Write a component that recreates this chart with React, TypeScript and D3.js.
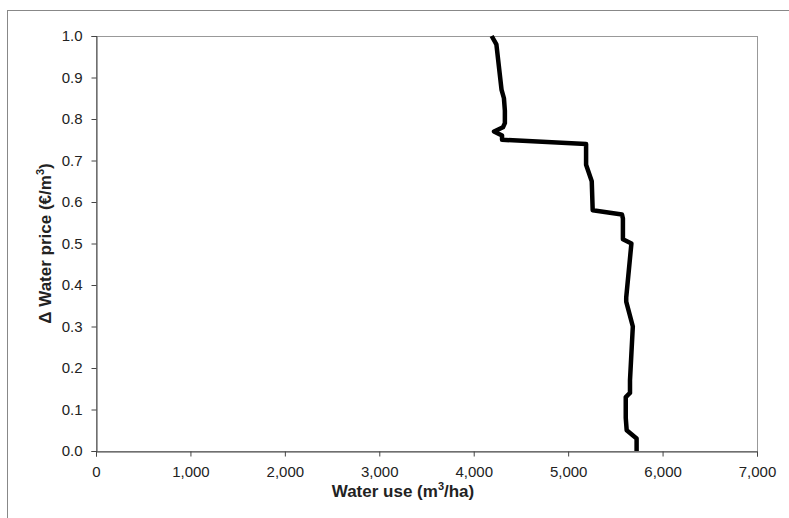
import React, { useEffect, useRef } from "react";
import * as d3 from "d3";

// Δ water price (€/m³) and the matching water use (m³/ha), read top to bottom
const priceLevels = [1.0, 0.98, 0.87, 0.85, 0.82, 0.79, 0.78, 0.77, 0.76, 0.75, 0.74, 0.69, 0.65, 0.58, 0.57, 0.56, 0.51, 0.5, 0.37, 0.36, 0.3, 0.17, 0.14, 0.13, 0.08, 0.05, 0.03, 0.0];
const waterUse = [4190, 4240, 4295, 4320, 4330, 4330, 4310, 4215, 4300, 4300, 5190, 5190, 5250, 5260, 5570, 5580, 5580, 5670, 5615, 5615, 5685, 5655, 5655, 5610, 5610, 5620, 5725, 5725];

const xTicks = [0, 1000, 2000, 3000, 4000, 5000, 6000, 7000];
const yTicks = [0, 0.1, 0.2, 0.3, 0.4, 0.5, 0.6, 0.7, 0.8, 0.9, 1.0];

const W = 789;
const H = 518;

const App = () => {
  const ref = useRef<SVGSVGElement>(null);

  useEffect(() => {
    const svg = d3.select(ref.current);
    svg.selectAll("*").remove();

    const left = 96;
    const right = 757;
    const top = 36;
    const bottom = 451;
    const font = "'Liberation Sans', Arial, sans-serif";
    const textColor = "#222";

    // outer chart frame
    svg.append("rect").attr("x", 7.5).attr("y", 10.5).attr("width", 900).attr("height", 700)
      .attr("fill", "#fff").attr("stroke", "#888").attr("stroke-width", 1);

    const x = d3.scaleLinear().domain([0, 7000]).range([left, right]);
    const y = d3.scaleLinear().domain([0, 1]).range([bottom, top]);

    // plot area border (top/right grey)
    svg.append("rect").attr("x", left + 0.5).attr("y", top + 0.5)
      .attr("width", right - left).attr("height", bottom - top)
      .attr("fill", "none").attr("stroke", "#999");

    const xAxis = svg.append("g").attr("transform", `translate(0,${bottom + 0.5})`)
      .call(d3.axisBottom(x).tickValues(xTicks).tickSize(5).tickPadding(10).tickFormat(d3.format(",")));
    const yAxis = svg.append("g").attr("transform", `translate(${left + 0.5},0)`)
      .call(d3.axisLeft(y).tickValues(yTicks).tickSize(5).tickPadding(9).tickFormat(d3.format(".1f")));

    [xAxis, yAxis].forEach((g) => {
      g.select(".domain").attr("stroke", "#444");
      g.selectAll(".tick line").attr("stroke", "#444");
      g.selectAll("text").style("font-family", font).style("font-size", "15px").attr("fill", textColor);
    });

    const line = d3.line<number>()
      .x((d) => x(d))
      .y((_, i) => y(priceLevels[i]));

    svg.append("path").datum(waterUse)
      .attr("fill", "none").attr("stroke", "#000").attr("stroke-width", 4.5)
      .attr("stroke-linejoin", "round").attr("d", line);

    // axis titles
    const xt = svg.append("text").attr("x", 403).attr("y", 497)
      .attr("text-anchor", "middle").style("font-family", font).style("font-size", "17px")
      .style("font-weight", "bold").attr("fill", textColor);
    xt.append("tspan").text("Water use (m");
    xt.append("tspan").attr("dy", -7).style("font-size", "11px").text("3");
    xt.append("tspan").attr("dy", 7).text("/ha)");

    const yt = svg.append("text").attr("transform", `translate(51,${(top + bottom) / 2}) rotate(-90)`)
      .attr("text-anchor", "middle").style("font-family", font).style("font-size", "17px")
      .style("font-weight", "bold").attr("fill", textColor);
    yt.append("tspan").text("Δ Water price (€/m");
    yt.append("tspan").attr("dy", -7).style("font-size", "11px").text("3");
    yt.append("tspan").attr("dy", 7).text(")");
  }, []);

  return <svg ref={ref} width={W} height={H} style={{ position: "absolute", left: 0, top: 0 }}></svg>;
};

export default App;
